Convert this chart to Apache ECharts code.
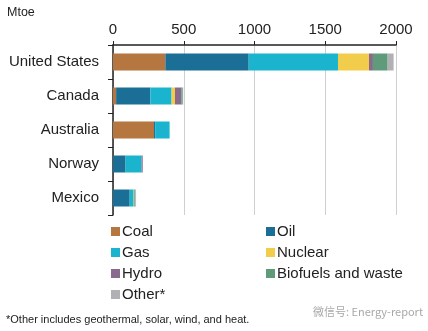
<!DOCTYPE html>
<html>
<head>
<meta charset="utf-8">
<script src="https://cdn.jsdelivr.net/npm/echarts@6/dist/echarts.min.js"></script>
<style>html,body{margin:0;padding:0;background:#fff;}#c{width:428px;height:331px;}</style>
</head>
<body>
<div id="c"></div>
<script>
const countries = ['United States', 'Canada', 'Australia', 'Norway', 'Mexico'];
const coal     = [370, 22, 290, 0, 0];
const oil      = [589, 242, 8, 89, 118];
const gas      = [631, 150, 102, 113, 28];
const nuclear  = [219, 24, 0, 0, 3];
const hydro    = [28, 45, 0, 8, 2];
const biofuels = [104, 10, 0, 0, 6];
const other    = [42, 3, 0, 0, 6];
const xTicks = [0, 500, 1000, 1500, 2000];

const seriesNames = ['Coal', 'Oil', 'Gas', 'Nuclear', 'Hydro', 'Biofuels and waste', 'Other*'];
const seriesData = [coal, oil, gas, nuclear, hydro, biofuels, other];
const colors = ['#b5773f', '#1b6e95', '#1ab4cf', '#f2cd4b', '#8a6a8c', '#5f9a7b', '#b1b1b5'];
const FONT = 'Arial, "Liberation Sans", sans-serif';

const chart = echarts.init(document.getElementById('c'), null, {renderer: 'canvas'});
chart.setOption({
  animation: false,
  backgroundColor: '#fff',
  textStyle: {fontFamily: FONT},
  grid: {left: 113, top: 45, right: 32, bottom: 116},
  xAxis: {
    type: 'value', position: 'top', min: xTicks[0], max: xTicks[xTicks.length - 1], interval: 500,
    axisLine: {show: true, lineStyle: {color: '#222', width: 1.5}},
    axisTick: {show: true, length: 4, lineStyle: {color: '#222'}},
    axisLabel: {fontSize: 15, color: '#222', margin: 8, fontFamily: FONT, formatter: v => String(v)},
    splitLine: {show: true, lineStyle: {color: '#cfcfcf', width: 1}}
  },
  yAxis: {
    type: 'category', data: countries, inverse: true,
    axisLine: {show: true, lineStyle: {color: '#222', width: 1.5}},
    axisTick: {show: true, length: 5, lineStyle: {color: '#222'}},
    axisLabel: {fontSize: 15, color: '#222', margin: 14, fontFamily: FONT},
    splitLine: {show: false}
  },
  legend: [
    {
      orient: 'vertical', left: 106, top: 219, itemWidth: 9, itemHeight: 9, itemGap: 6,
      icon: 'rect', data: ['Coal', 'Gas', 'Hydro', 'Other*'],
      textStyle: {fontSize: 15, color: '#222', fontFamily: FONT, padding: [0, 0, 0, -3]}
    },
    {
      orient: 'vertical', left: 261, top: 219, itemWidth: 9, itemHeight: 9, itemGap: 6,
      icon: 'rect', data: ['Oil', 'Nuclear', 'Biofuels and waste'],
      textStyle: {fontSize: 15, color: '#222', fontFamily: FONT, padding: [0, 0, 0, -3]}
    }
  ],
  graphic: [
    {type: 'text', left: 7, top: 6, style: {text: 'Mtoe', font: '12.5px ' + FONT, fill: '#222'}},
    {type: 'text', left: 6, top: 314, style: {text: '*Other includes geothermal, solar, wind, and heat.', font: '11px ' + FONT, fill: '#222'}},
    {type: 'text', left: 313, top: 306, style: {text: '微信号: Energy-report', font: '11px "Noto Sans CJK SC", ' + FONT, fill: '#a8a8a8'}}
  ],
  series: seriesNames.map((n, i) => ({
    name: n, type: 'bar', stack: 'total', data: seriesData[i],
    barWidth: 17, itemStyle: {color: colors[i]}
  })),
  color: colors
});
</script>
</body>
</html>
